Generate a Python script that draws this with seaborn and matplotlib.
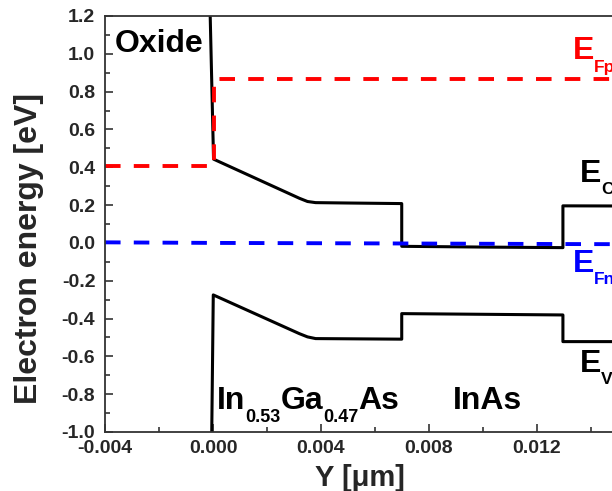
import matplotlib
matplotlib.use("Agg")
import matplotlib.pyplot as plt
import seaborn as sns
import numpy as np
from matplotlib.ticker import MultipleLocator, FormatStrFormatter

# ---- data ----
ec_x = [-0.00012, 0.00002, 0.0032, 0.0035, 0.0038, 0.0050, 0.00699, 0.00699, 0.0100, 0.01296, 0.01296, 0.0160]
ec_y = [1.30, 0.443, 0.236, 0.219, 0.213, 0.211, 0.208, -0.018, -0.022, -0.025, 0.196, 0.195]

ev_x = [-0.00005, 0.00001, 0.0032, 0.0035, 0.0038, 0.00699, 0.00699, 0.01296, 0.01296, 0.0160]
ev_y = [-1.05, -0.275, -0.480, -0.497, -0.506, -0.509, -0.374, -0.381, -0.522, -0.522]

efp_x = [-0.004, 0.00004, 0.00004, 0.0160]
efp_y = [0.407, 0.407, 0.866, 0.866]

efn_x = [-0.004, 0.0, 0.007, 0.013, 0.0160]
efn_y = [0.003, 0.0, -0.003, -0.006, -0.007]

x_ticks = [-0.004, 0.000, 0.004, 0.008, 0.012]
y_ticks = [-1.0, -0.8, -0.6, -0.4, -0.2, 0.0, 0.2, 0.4, 0.6, 0.8, 1.0, 1.2]

sns.set_theme(style="ticks")
plt.rcParams['font.family'] = ['Liberation Sans', 'DejaVu Sans']
plt.rcParams['font.weight'] = 'bold'
plt.rcParams['axes.unicode_minus'] = False

fig = plt.figure(figsize=(6.12, 4.91), dpi=100)
ax = fig.add_axes([105/612, 59/491, 540/612, 416/491])

sns.lineplot(x=ec_x, y=ec_y, sort=False, estimator=None, color='black', lw=2.2, ax=ax)
sns.lineplot(x=ev_x, y=ev_y, sort=False, estimator=None, color='black', lw=2.2, ax=ax)
sns.lineplot(x=efp_x, y=efp_y, sort=False, estimator=None, color='#ff0000', lw=2.8,
             linestyle=(0, (4.0, 3.4)), ax=ax)
sns.lineplot(x=efn_x, y=efn_y, sort=False, estimator=None, color='#0000ff', lw=2.8,
             linestyle=(0, (4.0, 3.4)), ax=ax)

ax.set_xlim(-0.004, 0.016)
ax.set_ylim(-1.0, 1.2)
ax.set_xticks(x_ticks)
ax.set_yticks(y_ticks)
ax.xaxis.set_major_formatter(FormatStrFormatter('%.3f'))
ax.yaxis.set_major_formatter(FormatStrFormatter('%.1f'))
ax.xaxis.set_minor_locator(MultipleLocator(0.002))
ax.yaxis.set_minor_locator(MultipleLocator(0.1))
ax.tick_params(which='both', direction='in', top=False, right=False, color='#333333', width=1.2)
ax.tick_params(which='major', length=6, labelsize=14)
ax.tick_params(which='minor', length=3.5)
ax.tick_params(axis='x', pad=6)
ax.tick_params(axis='y', pad=7)
for lab in ax.get_xticklabels() + ax.get_yticklabels():
    lab.set_fontweight('bold')
for sp in ax.spines.values():
    sp.set_color('#333333')
    sp.set_linewidth(1.3)

ax.set_xlabel('Y [\u03bcm]', fontsize=21, fontweight='bold')
ax.set_ylabel('Electron energy [eV]', fontsize=23, fontweight='bold')
ax.xaxis.set_label_coords((360 - 105) / 540, -0.078)
ax.yaxis.set_label_coords(-0.113, (432 - 248) / 416)

BIG = 23
SUB = 12.5


def sub_text(x, y, parts, color, sub=SUB, drop=-9.5):
    """parts: list of (text, is_sub). baseline at data y."""
    prev = None
    for txt, is_sub in parts:
        dy = drop if is_sub else 0.0
        size = sub if is_sub else BIG
        if prev is None:
            prev = ax.annotate(txt, xy=(x, y), xycoords='data', xytext=(0, dy),
                               textcoords='offset points', ha='left', va='baseline',
                               fontsize=size, fontweight='bold', color=color)
        else:
            prev = ax.annotate(txt, xy=(1, y), xycoords=(prev, 'data'), xytext=(0, dy),
                               textcoords='offset points', ha='left', va='baseline',
                               fontsize=size, fontweight='bold', color=color)
    return prev


ax.text(-0.00363, 1.010, 'Oxide', fontsize=BIG, fontweight='bold', color='black', va='baseline')
sub_text(0.00015, -0.878, [('In', False), ('0.53', True), ('Ga', False), ('0.47', True), ('As', False)],
         'black', sub=13)
ax.text(0.00889, -0.878, 'InAs', fontsize=BIG, fontweight='bold', color='black', va='baseline')
sub_text(0.01333, 0.973, [('E', False), ('Fp', True)], '#ff0000')
sub_text(0.01359, 0.323, [('E', False), ('C', True)], 'black', drop=-8.5)
sub_text(0.01333, -0.153, [('E', False), ('Fn', True)], '#0000ff', drop=-8.5)
sub_text(0.01359, -0.682, [('E', False), ('V', True)], 'black', drop=-8.5)

fig.savefig('out.png', dpi=100)
